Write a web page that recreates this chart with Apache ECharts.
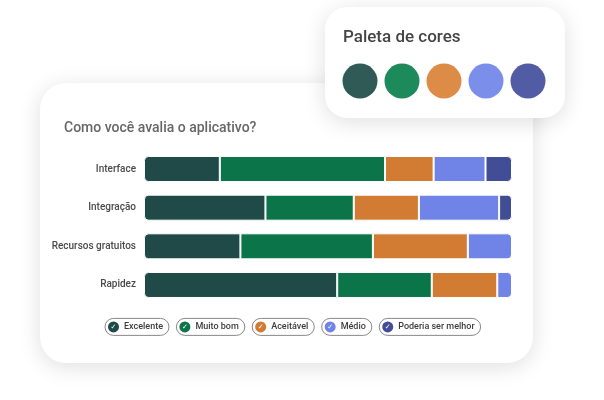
<!DOCTYPE html>
<html>
<head>
<meta charset="utf-8">
<script src="https://cdn.jsdelivr.net/npm/echarts@6/dist/echarts.min.js"></script>
<style>
html,body{margin:0;padding:0;background:#fff;}
#chart{width:604px;height:400px;}
</style>
</head>
<body>
<div id="chart"></div>
<script>
const categories = ['Interface', 'Integração', 'Recursos gratuitos', 'Rapidez'];
const seriesNames = ['Excelente', 'Muito bom', 'Aceitável', 'Médio', 'Poderia ser melhor'];
const excelente = [20.6, 33.0, 26.2, 52.5];
const muitoBom = [44.9, 24.0, 36.0, 25.7];
const aceitavel = [13.2, 17.7, 25.8, 17.8];
const medio = [14.1, 21.8, 12.0, 4.0];
const poderiaSerMelhor = [7.2, 3.5, 0, 0];
const barColors = ['#1f4a48', '#0b7449', '#d27b32', '#7083e6', '#414e96'];
const paletteColors = ['#2f5a55', '#1d8a5b', '#dc8c47', '#7b8fea', '#525ca4'];
const chartTitle = 'Como você avalia o aplicativo?';
const paletteTitle = 'Paleta de cores';

const values = [excelente, muitoBom, aceitavel, medio, poderiaSerMelhor];
const R = 4;

const series = values.map((vals, si) => ({
  name: seriesNames[si],
  type: 'bar',
  stack: 'total',
  barWidth: 26,
  z: 5,
  itemStyle: { color: barColors[si], borderColor: '#ffffff', borderWidth: 1 },
  emphasis: { disabled: true },
  data: vals.map((v, ci) => {
    let first = -1, last = -1;
    values.forEach((arr, k) => { if (arr[ci] > 0) { if (first < 0) first = k; last = k; } });
    const r = [si === first ? R : 0, si === last ? R : 0, si === last ? R : 0, si === first ? R : 0];
    return { value: v, itemStyle: { borderRadius: r } };
  })
}));

const rich = { t: { fontFamily: 'Roboto', fontSize: 9, fontWeight: 500, color: '#3c3c3c', padding: [0, 0, 0, 5] } };
barColors.forEach((c, i) => {
  rich['i' + i] = {
    backgroundColor: c, width: 11, height: 11, borderRadius: 6,
    color: '#ffffff', fontSize: 7, lineHeight: 11, align: 'center', fontFamily: 'DejaVu Sans'
  };
});

const graphics = [
  { type: 'rect', z: -10, shape: { x: 40, y: 83, width: 493, height: 280, r: 26 },
    style: { fill: '#ffffff', shadowBlur: 22, shadowColor: 'rgba(0,0,0,0.13)', shadowOffsetY: 4 } },
  { type: 'rect', z: -5, shape: { x: 325, y: 7, width: 240, height: 111, r: 22 },
    style: { fill: '#ffffff', shadowBlur: 22, shadowColor: 'rgba(0,0,0,0.13)', shadowOffsetY: 4 } },
  { type: 'text', z: -4, left: 343, top: 29,
    style: { text: paletteTitle, fontFamily: 'Roboto', fontSize: 17, fontWeight: 500, fill: '#454545' } }
];
paletteColors.forEach((c, i) => {
  graphics.push({ type: 'circle', z: -4, shape: { cx: 360 + i * 42, cy: 81, r: 17.5 }, style: { fill: c } });
});

const chart = echarts.init(document.getElementById('chart'));
chart.setOption({
  animation: false,
  backgroundColor: '#ffffff',
  graphic: graphics,
  title: {
    text: chartTitle, left: 59, top: 116,
    textStyle: { fontFamily: 'Roboto', fontSize: 14, fontWeight: 500, color: '#666666' }
  },
  legend: {
    left: 94, top: 313, itemGap: 1, itemWidth: 0, itemHeight: 0,
    selectedMode: false,
    data: seriesNames,
    formatter: name => `{i${seriesNames.indexOf(name)}|✓}{t|${name}}`,
    textStyle: {
      borderColor: '#6a6a6a', borderWidth: 0.8, borderRadius: 9,
      padding: [3, 6, 3, 3], rich: rich
    }
  },
  grid: { left: 144, right: 92, top: 149.7, bottom: 95.7 },
  xAxis: { type: 'value', min: 0, max: 100, show: false },
  yAxis: {
    type: 'category', data: categories, inverse: true,
    axisLine: { show: false }, axisTick: { show: false },
    axisLabel: { margin: 8, fontFamily: 'Roboto', fontSize: 10, fontWeight: 500, color: '#4a4a4a' }
  },
  series: series
});
</script>
</body>
</html>
